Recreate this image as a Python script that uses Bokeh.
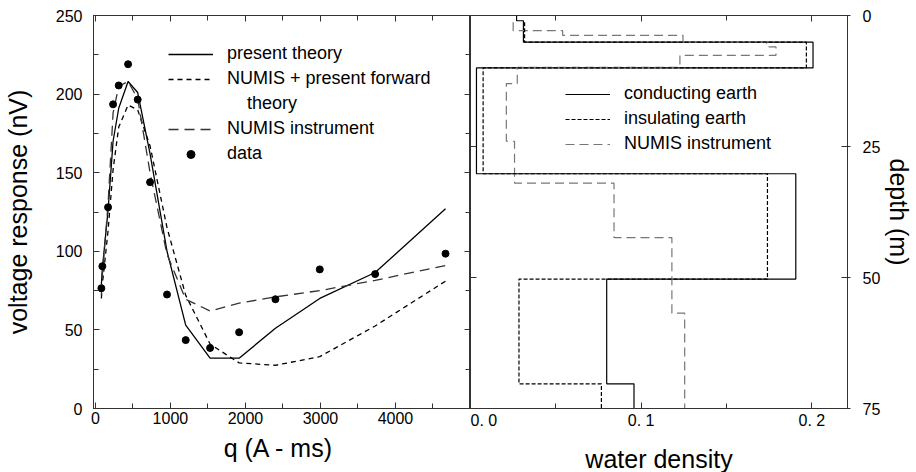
from bokeh.plotting import figure
from bokeh.models import Range1d, LinearAxis, FixedTicker, Legend, LegendItem
from bokeh.layouts import row
from bokeh.embed import file_html
from bokeh.resources import INLINE

# ---------------- left panel: voltage response vs pulse moment ----------------
q_values = [80, 93, 169, 236, 311, 436, 564, 729, 955, 1204, 1529, 1916, 2400, 2991, 3729, 4667]
data_nv = [76.5, 90.5, 128, 193.5, 205.5, 219, 196.5, 144, 72.5, 43.5, 38.5, 48.5, 69.5, 88.5, 85.5, 98.5]
present_theory_nv = [79, 89, 126, 170, 191, 208, 201, 162, 100, 53, 32, 32, 51, 70, 86.5, 127]
numis_forward_nv = [70, 79, 113, 152, 179, 193, 190, 167, 115, 72, 41, 29, 27.5, 33, 52.5, 81]
numis_instrument_nv = [72, 85, 130, 188, 205, 208, 197, 150, 98, 69.5, 62, 67, 71, 75, 81.5, 91]

q_ticks = [0, 1000, 2000, 3000, 4000]
q_minor_ticks = [500, 1500, 2500, 3500, 4500]
v_ticks = [0, 50, 100, 150, 200, 250]
v_minor_ticks = [25, 75, 125, 175, 225]

# ---------------- right panel: water density profiles ----------------
conducting_depths = [0, 1.0, 5.1, 10.0, 30.2, 50.3, 70.3, 75]
conducting_density = [0.027, 0.031, 0.2007, 0.0035, 0.1906, 0.0798, 0.0958]
insulating_depths = [1.3, 5.1, 10.0, 30.2, 50.3, 70.3, 75]
insulating_density = [0.0317, 0.1968, 0.0074, 0.174, 0.0284, 0.0767]
numis_depths = [1.3, 2.9, 3.8, 5.1, 6.0, 7.6, 9.9, 13.0, 24.0, 32.0, 42.4, 56.8, 75]
numis_density = [0.025, 0.054, 0.1245, 0.1735, 0.179, 0.1227, 0.0274, 0.021, 0.0258, 0.0841, 0.118, 0.1255]

w_ticks = [0, 0.1, 0.2]
w_tick_labels = ["0. 0", "0. 1", "0. 2"]
w_minor_ticks = [0.05, 0.15]
depth_ticks = [0, 25, 50, 75]

FONT = "Liberation Sans"
AX = "#333333"


def profile(depths, dens):
    xs, ys = [], []
    for i, w in enumerate(dens):
        xs += [w, w]
        ys += [depths[i], depths[i + 1]]
    return xs, ys


def style_axis(ax, labels=True):
    ax.axis_line_color = AX
    ax.major_tick_line_color = AX
    ax.minor_tick_line_color = AX
    ax.major_tick_in = 6
    ax.major_tick_out = 0
    ax.minor_tick_in = 5
    ax.minor_tick_out = 0
    ax.major_label_text_font = FONT
    ax.major_label_text_font_size = "16px"
    ax.major_label_text_color = "black"
    ax.axis_label_text_font = FONT
    ax.axis_label_text_font_size = "25px"
    ax.axis_label_text_font_style = "normal"
    ax.axis_label_text_color = "black"
    if not labels:
        ax.major_label_text_font_size = "1px"
        ax.major_label_text_color = None
        ax.major_label_standoff = 0
        ax.axis_label = None


# ---------- left figure ----------
p1 = figure(frame_width=377, frame_height=393,
            x_range=Range1d(-25, 5000), y_range=Range1d(0, 250),
            output_backend="svg", toolbar_location=None,
            min_border_left=93, min_border_right=0,
            min_border_top=15, min_border_bottom=64)
p1.grid.visible = False
p1.outline_line_color = AX

p1.xaxis.ticker = FixedTicker(ticks=q_ticks, minor_ticks=q_minor_ticks)
p1.yaxis.ticker = FixedTicker(ticks=v_ticks, minor_ticks=v_minor_ticks)
p1.xaxis.axis_label = "q (A -  ms)"
p1.yaxis.axis_label = "voltage response (nV)"
for ax in p1.xaxis + p1.yaxis:
    style_axis(ax)
p1.xaxis.major_label_standoff = 3
p1.xaxis.axis_label_standoff = 7
p1.yaxis.major_label_standoff = 11
p1.yaxis.axis_label_standoff = 21

top1 = LinearAxis(ticker=FixedTicker(ticks=q_ticks, minor_ticks=q_minor_ticks))
style_axis(top1, labels=False)
p1.add_layout(top1, "above")
right1 = LinearAxis(ticker=FixedTicker(ticks=v_ticks, minor_ticks=v_minor_ticks))
style_axis(right1, labels=False)
p1.add_layout(right1, "right")

r_theory = p1.line(q_values, present_theory_nv, line_color="black", line_width=1.3)
r_fwd = p1.line(q_values, numis_forward_nv, line_color="black", line_width=1.3, line_dash="5 4")
r_dummy = p1.line([], [], line_alpha=0)
r_inst = p1.line(q_values, numis_instrument_nv, line_color="#333333", line_width=1.3, line_dash="10 6")
r_data = p1.scatter(q_values, data_nv, size=7, color="black")

leg1 = Legend(items=[
    LegendItem(label="present theory", renderers=[r_theory]),
    LegendItem(label="NUMIS + present forward", renderers=[r_fwd]),
    LegendItem(label="\u00a0\u00a0\u00a0\u00a0theory", renderers=[r_dummy]),
    LegendItem(label="NUMIS instrument", renderers=[r_inst]),
    LegendItem(label="data", renderers=[r_data]),
], location=(75, 244), orientation="vertical")

# ---------- right figure ----------
p2 = figure(frame_width=377, frame_height=393,
            x_range=Range1d(0, 0.2209), y_range=Range1d(75, 0),
            output_backend="svg", toolbar_location=None,
            min_border_left=0, min_border_right=66,
            min_border_top=15, min_border_bottom=64,
            y_axis_location="right")
p2.grid.visible = False
p2.outline_line_color = AX
p2.xaxis.ticker = FixedTicker(ticks=w_ticks, minor_ticks=w_minor_ticks)
p2.xaxis.major_label_overrides = {t: s for t, s in zip(w_ticks, w_tick_labels)}
p2.yaxis.ticker = FixedTicker(ticks=depth_ticks)
p2.xaxis.axis_label = "water density"
p2.yaxis.axis_label = "depth (m)"
for ax in p2.xaxis + p2.yaxis:
    style_axis(ax)
p2.xaxis.major_label_standoff = 3
p2.xaxis.axis_label_standoff = 13
p2.yaxis.major_tick_out = 3
p2.yaxis.major_label_standoff = 12
p2.yaxis.axis_label_standoff = 2

top2 = LinearAxis(ticker=FixedTicker(ticks=w_ticks, minor_ticks=w_minor_ticks))
style_axis(top2, labels=False)
p2.add_layout(top2, "above")
left2 = LinearAxis(ticker=FixedTicker(ticks=depth_ticks))
style_axis(left2, labels=False)
p2.add_layout(left2, "left")

cx, cy = profile(conducting_depths, conducting_density)
ix, iy = profile(insulating_depths, insulating_density)
nx, ny = profile(numis_depths, numis_density)
r_cond = p2.line(cx, cy, line_color="black", line_width=1.2)
r_numis = p2.line(nx, ny, line_color="#777777", line_width=1.2, line_dash="9 5")
r_ins = p2.line(ix, iy, line_color="black", line_width=1.2, line_dash="4 2")

leg2 = Legend(items=[
    LegendItem(label="conducting earth", renderers=[r_cond]),
    LegendItem(label="insulating earth", renderers=[r_ins]),
    LegendItem(label="NUMIS instrument", renderers=[r_numis]),
], location=(95, 254), orientation="vertical")

for leg, p in ((leg1, p1), (leg2, p2)):
    leg.border_line_color = None
    leg.background_fill_alpha = 0
    leg.padding = 0
    leg.margin = 0
    leg.spacing = 4
    leg.glyph_width = 45
    leg.glyph_height = 20
    leg.label_height = 20
    leg.label_standoff = 14
    leg.label_text_font = FONT
    leg.label_text_font_size = "18px"
    leg.label_text_color = "black"
    p.add_layout(leg, "center")

layout = row(p1, p2, spacing=0)
open("out.html", "w").write(file_html(layout, INLINE))
